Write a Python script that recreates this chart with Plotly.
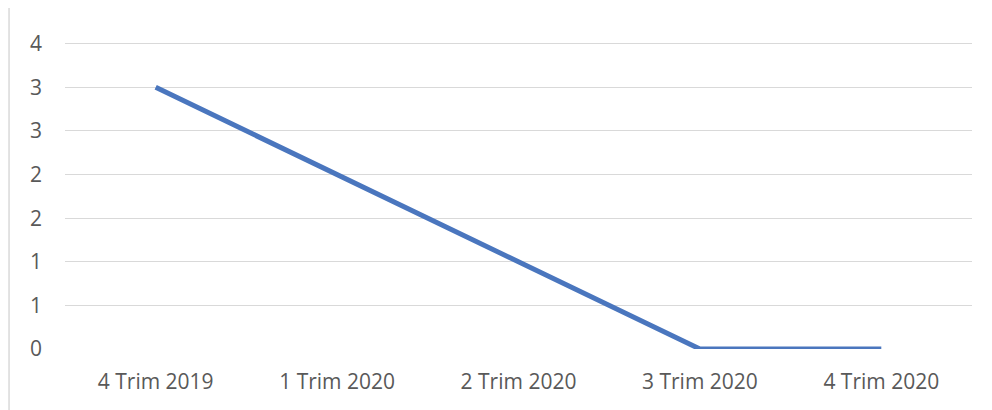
import plotly.graph_objects as go

# Quarterly series
quarters = ["4 Trim 2019", "1 Trim 2020", "2 Trim 2020", "3 Trim 2020", "4 Trim 2020"]
values = [3, 2, 1, 0, 0]

# Y axis ticks every 0.5, labelled with rounded values
y_tickvals = [0, 0.5, 1, 1.5, 2, 2.5, 3, 3.5]
y_ticktext = ["0", "1", "1", "2", "2", "3", "3", "4"]

fig = go.Figure()
fig.add_trace(go.Scatter(
    x=list(range(len(quarters))),
    y=values,
    mode="lines",
    line=dict(color="#4A76BE", width=5),
    hoverinfo="skip",
))

font = dict(family="Open Sans, Liberation Sans, sans-serif", size=21, color="#595959")

fig.update_layout(
    width=992, height=410,
    margin=dict(l=65, r=20, t=42, b=61),
    paper_bgcolor="white", plot_bgcolor="white",
    showlegend=False,
    font=font,
    xaxis=dict(
        range=[-0.5, len(quarters) - 0.5],
        tickvals=list(range(len(quarters))),
        ticktext=quarters,
        showgrid=False, zeroline=False, showline=False,
        ticks="", ticklabelstandoff=18,
        tickfont=font,
    ),
    yaxis=dict(
        range=[0, 3.52],
        tickvals=y_tickvals,
        ticktext=y_ticktext,
        showgrid=True, gridcolor="#D9D9D9", gridwidth=1,
        zeroline=False, showline=False,
        ticks="", ticklabelstandoff=22,
        tickfont=font,
    ),
)

# light frame edge on the left side
fig.add_shape(
    type="line", xref="paper", yref="paper",
    x0=-0.0617, x1=-0.0617, y0=1.111, y1=-0.25,
    line=dict(color="#D9D9D9", width=1.5),
)

fig.write_html("out.html")
